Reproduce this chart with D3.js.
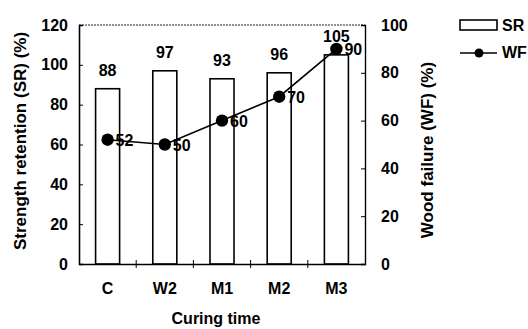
<!DOCTYPE html>
<html>
<head>
<meta charset="utf-8">
<script src="https://cdn.jsdelivr.net/npm/d3@7"></script>
<style>
  body { margin: 0; background: #fff; }
  svg text { font-family: "Liberation Sans", Arial, sans-serif !important; font-weight: bold; fill: #000; }
</style>
</head>
<body>
<script>
// data
var categories = ["C", "W2", "M1", "M2", "M3"];
var srValues = [88, 97, 93, 96, 105];
var wfValues = [52, 50, 60, 70, 90];
var srTicks = [0, 20, 40, 60, 80, 100, 120];
var wfTicks = [0, 20, 40, 60, 80, 100];

var margin = { top: 25, right: 163, bottom: 65, left: 79 },
    width = 528 - margin.left - margin.right,
    height = 329 - margin.top - margin.bottom;

var svg = d3.select("body").append("svg")
    .attr("width", 528)
    .attr("height", 329);

var g = svg.append("g")
    .attr("transform", "translate(" + margin.left + "," + margin.top + ")");

var x = d3.scaleBand().domain(categories).range([0, width]).paddingInner(0.58).paddingOuter(0.29);
var ySR = d3.scaleLinear().domain([0, 120]).range([height, 0]);
var yWF = d3.scaleLinear().domain([0, 100]).range([height, 0]);

// frame: top dashed
g.append("line")
    .attr("x1", 0).attr("x2", width).attr("y1", 0).attr("y2", 0)
    .attr("stroke", "#222").attr("stroke-width", 1).attr("stroke-dasharray", "2,1");

// bars
g.selectAll(".bar")
    .data(srValues)
    .enter().append("rect")
    .attr("class", "bar")
    .attr("x", (d, i) => x(categories[i]))
    .attr("y", (d) => ySR(d))
    .attr("width", x.bandwidth())
    .attr("height", (d) => height - ySR(d))
    .attr("fill", "#fff")
    .attr("stroke", "#000")
    .attr("stroke-width", 1.6);

g.selectAll(".barlabel")
    .data(srValues)
    .enter().append("text")
    .attr("x", (d, i) => x(categories[i]) + x.bandwidth() / 2)
    .attr("y", (d) => ySR(d) - 13)
    .attr("text-anchor", "middle")
    .style("font-size", "16px")
    .text((d) => d);

// left axis
var leftAxis = g.append("g")
    .call(d3.axisLeft(ySR).tickValues(srTicks).tickSize(-4).tickPadding(11));
leftAxis.select(".domain").attr("stroke-width", 1.6);
leftAxis.selectAll("text").style("font-size", "16px");

// right axis
var rightAxis = g.append("g")
    .attr("transform", "translate(" + width + ",0)")
    .call(d3.axisRight(yWF).tickValues(wfTicks).tickSize(-4).tickPadding(16));
rightAxis.select(".domain").attr("stroke-width", 1.4);
rightAxis.selectAll("text").style("font-size", "16px");

// bottom axis, ticks between categories
var bottomAxis = g.append("g")
    .attr("transform", "translate(0," + height + ")")
    .call(d3.axisBottom(x).tickSize(0).tickPadding(19));
bottomAxis.select(".domain").attr("stroke-width", 1.6);
bottomAxis.selectAll("text").style("font-size", "16px");
bottomAxis.selectAll(".sep")
    .data(categories.slice(1))
    .enter().append("line")
    .attr("x1", (d) => x(d) - x.step() * x.paddingInner() / 2)
    .attr("x2", (d) => x(d) - x.step() * x.paddingInner() / 2)
    .attr("y1", -4).attr("y2", 4)
    .attr("stroke", "#000");

// WF line
var line = d3.line()
    .x((d, i) => x(categories[i]) + x.bandwidth() / 2)
    .y((d) => yWF(d));

g.append("path")
    .datum(wfValues)
    .attr("d", line)
    .attr("fill", "none")
    .attr("stroke", "#000")
    .attr("stroke-width", 1.6);

g.selectAll(".dot")
    .data(wfValues)
    .enter().append("circle")
    .attr("cx", (d, i) => x(categories[i]) + x.bandwidth() / 2)
    .attr("cy", (d) => yWF(d))
    .attr("r", 6.2)
    .attr("fill", "#000");

g.selectAll(".wflabel")
    .data(wfValues)
    .enter().append("text")
    .attr("x", (d, i) => x(categories[i]) + x.bandwidth() / 2 + 8)
    .attr("y", (d) => yWF(d) + 6)
    .style("font-size", "16px")
    .text((d) => d);

// axis titles
svg.append("text")
    .attr("transform", "translate(26,141) rotate(-90)")
    .attr("text-anchor", "middle")
    .style("font-size", "17px")
    .text("Strength retention (SR) (%)");

svg.append("text")
    .attr("transform", "translate(433,150) rotate(-90)")
    .attr("text-anchor", "middle")
    .style("font-size", "17px")
    .text("Wood failure (WF) (%)");

svg.append("text")
    .attr("x", 216)
    .attr("y", 324)
    .attr("text-anchor", "middle")
    .style("font-size", "16px")
    .text("Curing time");

// legend
var legend = svg.append("g").attr("transform", "translate(460,20)");
legend.append("rect")
    .attr("x", 0).attr("y", 0).attr("width", 37).attr("height", 10)
    .attr("fill", "#fff").attr("stroke", "#000").attr("stroke-width", 1.6);
legend.append("text")
    .attr("x", 42).attr("y", 11)
    .style("font-size", "16px")
    .text("SR");
legend.append("line")
    .attr("x1", 0).attr("x2", 37).attr("y1", 33).attr("y2", 33)
    .attr("stroke", "#000").attr("stroke-width", 1.6);
legend.append("circle")
    .attr("cx", 19).attr("cy", 33).attr("r", 4.5).attr("fill", "#000");
legend.append("text")
    .attr("x", 42).attr("y", 38)
    .style("font-size", "16px")
    .text("WF");
</script>
</body>
</html>
